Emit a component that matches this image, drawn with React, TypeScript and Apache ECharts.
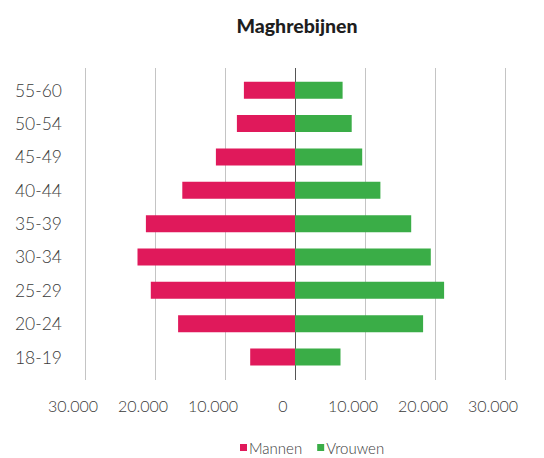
import React, { useEffect, useRef } from "react";
import * as echarts from "echarts";

const categories = ["18-19", "20-24", "25-29", "30-34", "35-39", "40-44", "45-49", "50-54", "55-60"];
const mannen = [6400, 16700, 20600, 22500, 21300, 16100, 11300, 8300, 7300];
const vrouwen = [6500, 18300, 21300, 19400, 16600, 12200, 9600, 8100, 6800];
const xTicks = [-30000, -20000, -10000, 0, 10000, 20000, 30000];

const fmt = (v: number) => {
  const a = Math.abs(v);
  if (a === 0) return "0";
  const s = String(a);
  return s.replace(/\B(?=(\d{3})+(?!\d))/g, ".");
};

const FONT = "Lato";

export default function App() {
  const ref = useRef<HTMLDivElement>(null);
  useEffect(() => {
    if (!ref.current) return;
    const chart = echarts.init(ref.current, undefined, { renderer: "svg" });
    chart.setOption({
      animation: false,
      backgroundColor: "#ffffff",
      title: {
        text: "Maghrebijnen",
        left: 292,
        textAlign: "center",
        top: 10,
        textStyle: { fontFamily: FONT, fontWeight: 900, fontSize: 19.5, color: "#1e1e1e" },
      },
      legend: {
        data: ["Mannen", "Vrouwen"],
        left: 235,
        top: 435,
        icon: "rect",
        itemWidth: 7,
        itemHeight: 7,
        itemGap: 15,
        textStyle: { fontFamily: FONT, fontWeight: 300, fontSize: 15, color: "#3a3a3a", padding: [0, 0, 0, -3] },
      },
      grid: [
        { left: 85, right: 39, top: 73.6, bottom: 84.3 },
        { left: 85, right: 39, top: 68, bottom: 78 },
      ],
      xAxis: [
        { type: "value", gridIndex: 0, min: -30000, max: 30000, interval: 10000, show: false },
        {
          type: "value",
          gridIndex: 1,
          min: -30000,
          max: 30000,
          interval: 10000,
          axisLine: { show: false },
          axisTick: { show: false },
          splitLine: {
            show: true,
            lineStyle: { color: ["#c4c4c4", "#c4c4c4", "#c4c4c4", "#555555", "#c4c4c4", "#c4c4c4", "#c4c4c4"], width: 1 },
          },
          axisLabel: {
            margin: 17,
            fontFamily: FONT,
            fontWeight: 300,
            fontSize: 16,
            color: "#3a3a3a",
            padding: [0, 24, 0, 0],
            formatter: (v: number) => (xTicks.includes(v) ? fmt(v) : ""),
          },
        },
      ],
      yAxis: [
        {
          type: "category",
          gridIndex: 0,
          data: categories,
          axisLine: { show: false },
          axisTick: { show: false },
          axisLabel: { margin: 23, fontFamily: FONT, fontWeight: 300, fontSize: 17.5, color: "#3a3a3a" },
        },
        { type: "category", gridIndex: 1, data: categories, show: false },
      ],
      series: [
        {
          name: "Mannen",
          type: "bar",
          stack: "total",
          xAxisIndex: 0,
          yAxisIndex: 0,
          barWidth: 17,
          itemStyle: { color: "#e0195b" },
          data: mannen.map((v) => -v),
        },
        {
          name: "Vrouwen",
          type: "bar",
          stack: "total",
          xAxisIndex: 0,
          yAxisIndex: 0,
          barWidth: 17,
          itemStyle: { color: "#3aad47" },
          data: vrouwen,
        },
      ],
    });
    return () => chart.dispose();
  }, []);
  return <div ref={ref} style={{ width: 544, height: 458, position: "absolute", left: 0, top: 0 }} />;
}
